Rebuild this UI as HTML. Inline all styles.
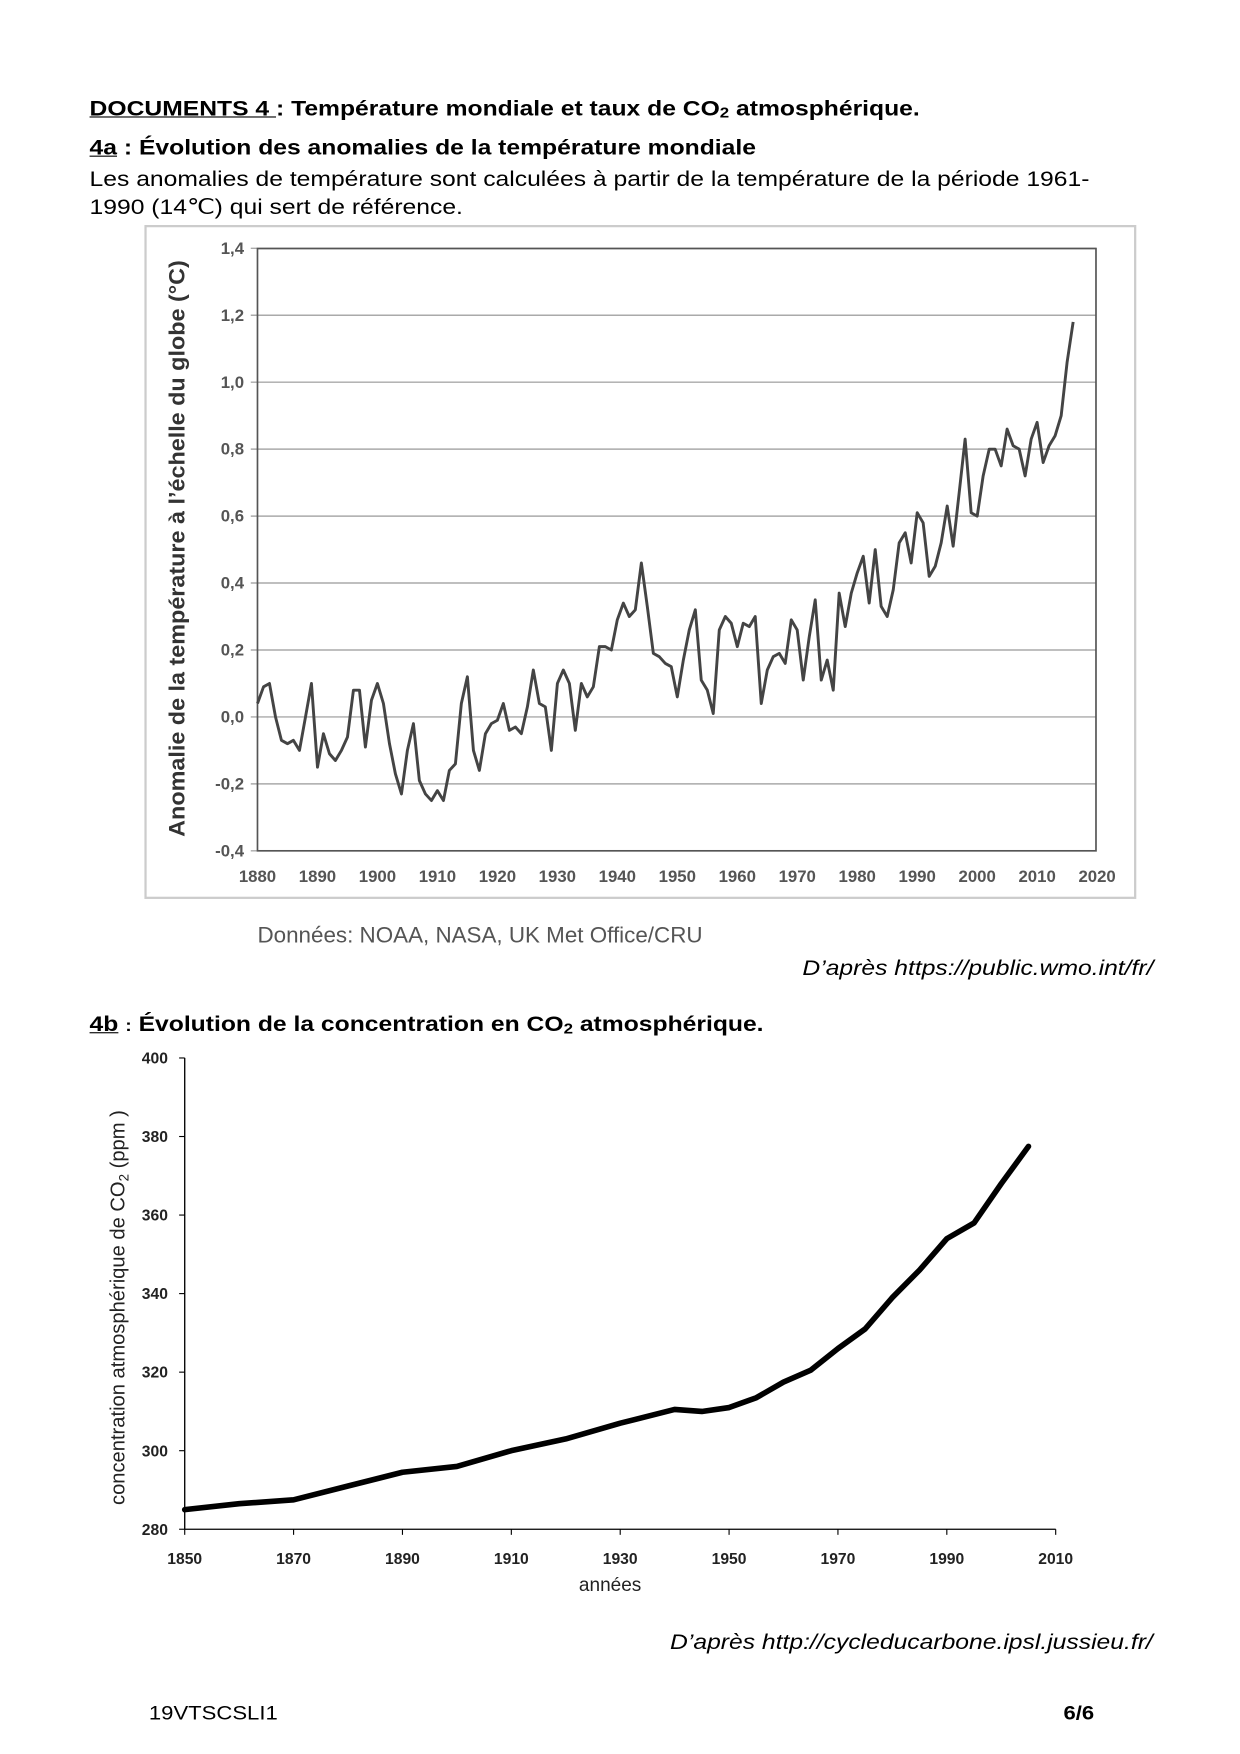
<!DOCTYPE html>
<html><head><meta charset="utf-8">
<style>
html,body{margin:0;padding:0;background:#fff;}
body{width:1240px;height:1754px;overflow:hidden;position:relative;}
#pg{position:absolute;left:0;top:0;width:1100px;height:1556px;transform:scale(1.1195);transform-origin:0 0;font-family:"Liberation Sans",Arial,sans-serif;color:#000;}
.t{position:absolute;white-space:nowrap;font-size:19px;line-height:22px;transform:scaleX(1.16);transform-origin:0 0;}
.r{transform-origin:100% 0;}
.b{font-weight:bold;}
.i{font-style:italic;}
u{text-decoration:underline;}
sub{font-size:13px;vertical-align:-2px;line-height:0;}
svg{position:absolute;left:0;top:0;}
</style></head><body><div id="pg">
<div class="t b" style="left:80px;top:87px;"><u>DOCUMENTS 4 </u>: Température mondiale et taux de CO<sub>2</sub> atmosphérique.</div>
<div class="t b" style="left:80px;top:122px;"><u>4a</u> : Évolution des anomalies de la température mondiale</div>
<div class="t" style="left:80px;top:150px;">Les anomalies de température sont calculées à partir de la température de la période 1961-</div>
<div class="t" style="left:80px;top:175px;">1990 (14℃) qui sert de référence.</div>
<div class="t" style="left:230px;top:825px;color:#555;font-size:20px;transform:none;">Données: NOAA, NASA, UK Met Office/CRU</div>
<div class="t i r" style="right:70px;top:855px;">D’après https://public.wmo.int/fr/</div>
<div class="t b" style="left:80px;top:905px;"><u>4b</u> <span style="font-size:15px">:</span> Évolution de la concentration en CO<sub>2</sub> atmosphérique.</div>
<div class="t i r" style="right:70px;top:1457px;">D’après http://cycleducarbone.ipsl.jussieu.fr/</div>
<div class="t" style="left:133px;top:1520px;font-size:17px;">19VTSCSLI1</div>
<div class="t b" style="left:950px;top:1520px;font-size:17px;">6/6</div>
<svg id="s" width="1100" height="1556" xmlns="http://www.w3.org/2000/svg"></svg>
</div>
<script>
var s=document.getElementById('s'),h='';
h+='<rect x="130" y="202" width="884" height="600" fill="none" stroke="#ccc" stroke-width="2"/>';
function ty(v){return 760-(v+0.4)*299;}
function tx(y){return 230+(y-1880)*750/140;}
for(var v=-0.4;v<=1.41;v+=0.2){var y=ty(v);h+='<line x1="224" x2="979" y1="'+y+'" y2="'+y+'" stroke="#aaa" stroke-width="1.3"/>';
h+='<text x="218" y="'+(y+5)+'" text-anchor="end" font-size="15" font-weight="bold" fill="#555" font-family="Liberation Sans">'+v.toFixed(1).replace('.',',').replace('-0,0','0,0')+'</text>';}
h+='<rect x="230" y="222" width="749" height="538" fill="none" stroke="#555" stroke-width="1.5"/>';
for(var yr=1880;yr<=2020;yr+=10){h+='<text x="'+tx(yr)+'" y="788" text-anchor="middle" font-size="15" font-weight="bold" fill="#555" font-family="Liberation Sans">'+yr+'</text>';}
h+='<text transform="translate(165,490) rotate(-90)" text-anchor="middle" font-size="20" font-weight="bold" fill="#333" font-family="Liberation Sans" textLength="515" lengthAdjust="spacingAndGlyphs">Anomalie de la température à l’échelle du globe (°C)</text>';
var T=[.04,.09,.10,0,-.07,-.08,-.07,-.10,0,.10,-.15,-.05,-.11,-.13,-.10,-.06,.08,.08,-.09,.05,.10,.04,-.08,-.17,-.23,-.10,-.02,-.19,-.23,-.25,-.22,-.25,-.16,-.14,.04,.12,-.10,-.16,-.05,-.02,-.01,.04,-.04,-.03,-.05,.03,.14,.04,.03,-.10,.10,.14,.10,-.04,.10,.06,.09,.21,.21,.20,.29,.34,.30,.32,.46,.33,.19,.18,.16,.15,.06,.17,.26,.32,.11,.08,.01,.26,.30,.28,.21,.28,.27,.30,.04,.14,.18,.19,.16,.29,.26,.11,.24,.35,.11,.17,.08,.37,.27,.37,.43,.48,.34,.50,.33,.30,.38,.52,.55,.46,.61,.58,.42,.45,.52,.63,.51,.67,.83,.61,.60,.72,.80,.80,.75,.86,.81,.80,.72,.83,.88,.76,.81,.84,.90,1.06,1.18];
var p=[];for(var i=0;i<T.length;i++)p.push(tx(1880+i).toFixed(1)+','+ty(T[i]).toFixed(1));
h+='<polyline points="'+p.join(' ')+'" fill="none" stroke="#444" stroke-width="2.6" stroke-linejoin="round"/>';
function cx(y){return 165+(y-1850)*4.8625;}
function cy(v){return 1366-(v-280)*3.508;}
h+='<line x1="165" y1="945" x2="165" y2="1366" stroke="#000" stroke-width="1.2"/><line x1="165" y1="1366" x2="943" y2="1366" stroke="#000" stroke-width="1.2"/>';
for(var v=280;v<=400;v+=20){var y=cy(v);h+='<line x1="160" x2="165" y1="'+y+'" y2="'+y+'" stroke="#000"/><text x="150" y="'+(y+5)+'" text-anchor="end" font-size="14" font-weight="bold" fill="#222" font-family="Liberation Sans">'+v+'</text>';}
for(var yr=1850;yr<=2010;yr+=20){var x=cx(yr);h+='<line x1="'+x+'" x2="'+x+'" y1="1366" y2="1371" stroke="#000"/><text x="'+x+'" y="1397" text-anchor="middle" font-size="14" font-weight="bold" fill="#222" font-family="Liberation Sans">'+yr+'</text>';}
h+='<text x="545" y="1421" text-anchor="middle" font-size="17" fill="#222" font-family="Liberation Sans">années</text>';
h+='<text transform="translate(111,1168) rotate(-90)" text-anchor="middle" font-size="18" fill="#222" font-family="Liberation Sans">concentration atmosphérique de CO<tspan font-size="12" dy="4">2</tspan><tspan dy="-4"> (ppm  )</tspan></text>';
var C=[[1850,285],[1860,286.5],[1870,287.5],[1880,291],[1890,294.5],[1900,296],[1910,300],[1920,303],[1930,307],[1940,310.5],[1945,310],[1950,311],[1955,313.5],[1960,317.5],[1965,320.5],[1970,326],[1975,331],[1980,339],[1985,346],[1990,354],[1995,358],[2000,368],[2005,377.5]];
p=[];for(var i=0;i<C.length;i++)p.push(cx(C[i][0]).toFixed(1)+','+cy(C[i][1]).toFixed(1));
h+='<polyline points="'+p.join(' ')+'" fill="none" stroke="#000" stroke-width="5" stroke-linejoin="round" stroke-linecap="round"/>';
s.innerHTML=h;
</script>
</body></html>
